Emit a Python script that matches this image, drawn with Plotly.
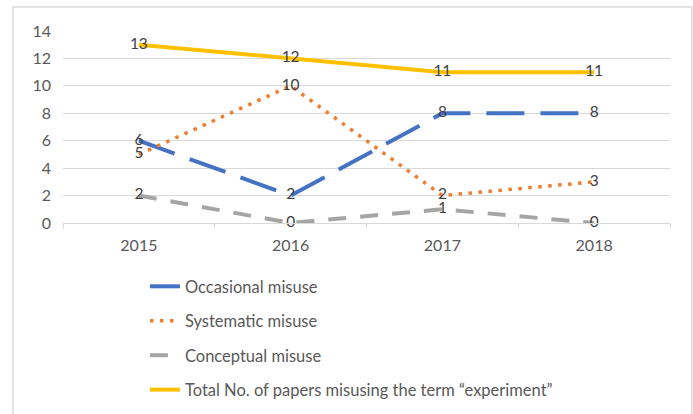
import plotly.graph_objects as go

years = ["2015", "2016", "2017", "2018"]
occasional = [6, 2, 8, 8]
systematic = [5, 10, 2, 3]
conceptual = [2, 0, 1, 0]
total = [13, 12, 11, 11]

names = ["Occasional misuse", "Systematic misuse", "Conceptual misuse",
         "Total No. of papers misusing the term \u201cexperiment\u201d"]

FONT = "Lato, Carlito, Calibri, sans-serif"

styles = [
    dict(color="#4472C4", width=4, dash="38px,16px"),
    dict(color="#ED7D31", width=3.5, dash="3.5px,6.5px"),
    dict(color="#A5A5A5", width=4, dash="18px,14px"),
    dict(color="#FFC000", width=4),
]
series = [occasional, systematic, conceptual, total]

fig = go.Figure()
for i, (vals, name, st) in enumerate(zip(series, names, styles)):
    fig.add_trace(go.Scatter(
        x=years, y=vals, name=name, mode="lines+text",
        text=[str(v) for v in vals], textposition="middle center",
        textfont=dict(family=FONT, size=15.5, color="#404040"),
        line=st, legendgroup=f"g{i}", cliponaxis=False,
    ))

fig.update_layout(
    width=693, height=414,
    margin=dict(l=63, r=23, t=31, b=191, autoexpand=False),
    paper_bgcolor="white", plot_bgcolor="white",
    font=dict(family=FONT, size=16, color="#595959"),
    showlegend=True,
    legend=dict(x=0.135, y=-0.24, xanchor="left", yanchor="top",
                orientation="v", traceorder="grouped", tracegroupgap=10,
                font=dict(family=FONT, size=16.5, color="#595959"),
                bgcolor="rgba(0,0,0,0)"),
    xaxis=dict(type="category", range=[-0.5, 3.5], showgrid=False,
               showline=True, linecolor="#d9d9d9", linewidth=1,
               ticks="outside", tickson="boundaries", ticklen=5,
               tickcolor="#d9d9d9", ticklabelstandoff=8,
               tickfont=dict(family=FONT, size=16, color="#595959")),
    yaxis=dict(range=[0, 14], dtick=2, showgrid=True, gridcolor="#d9d9d9",
               gridwidth=1, zeroline=False, showline=False,
               ticklabelstandoff=11,
               tickfont=dict(family=FONT, size=16, color="#595959")),
    shapes=[dict(type="rect", xref="paper", yref="paper",
                 x0=-0.0824, x1=1.036, y0=-1.2, y1=1.125,
                 line=dict(color="#d9d9d9", width=1.5), layer="below")],
)

fig.write_html("out.html", config=dict(displayModeBar=False),
               post_script="document.body.style.margin='0';")
